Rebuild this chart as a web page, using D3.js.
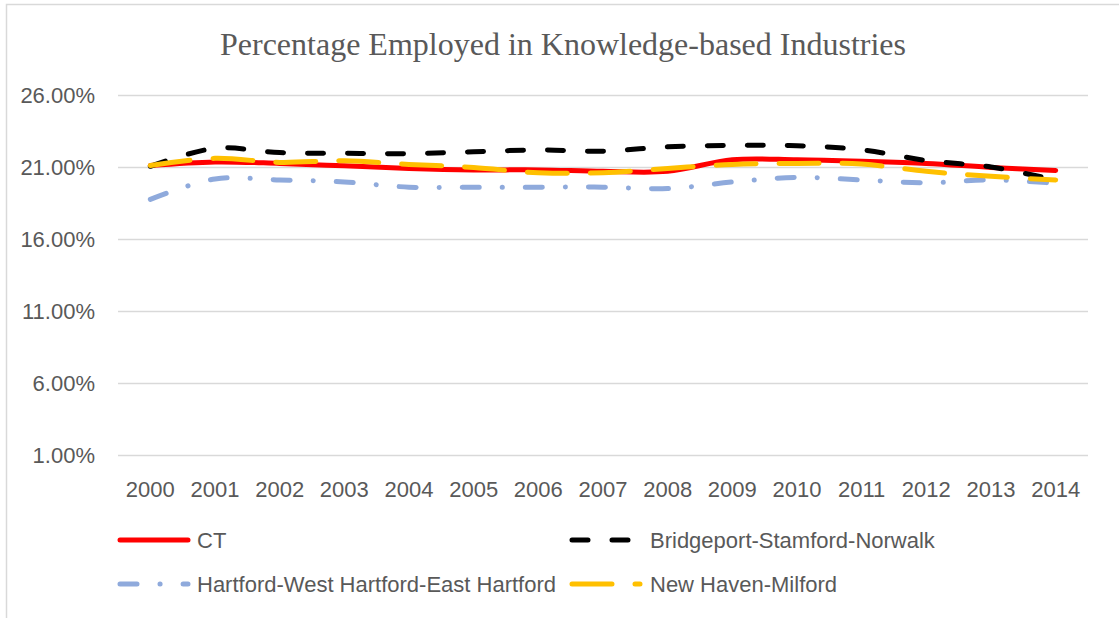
<!DOCTYPE html>
<html>
<head>
<meta charset="utf-8">
<script src="https://cdn.jsdelivr.net/npm/d3@7"></script>
<style>
  body { margin: 0; background: #fff; }
  svg text { fill: #595959; }
</style>
</head>
<body>
<div id="chart"></div>
<script>
"use strict";

const years = ['2000','2001','2002','2003','2004','2005','2006','2007','2008','2009','2010','2011','2012','2013','2014']
const yTicks = [1, 6, 11, 16, 21, 26]

const ct         = [21.10, 21.35, 21.25, 21.08, 20.90, 20.80, 20.80, 20.70, 20.70, 21.50, 21.50, 21.40, 21.25, 20.97, 20.76]
const bridgeport = [21.05, 22.30, 22.00, 21.95, 21.93, 22.06, 22.18, 22.10, 22.40, 22.50, 22.48, 22.20, 21.45, 21.00, 20.10]
const hartford   = [18.75, 20.17, 20.10, 19.96, 19.60, 19.60, 19.60, 19.60, 19.50, 19.96, 20.28, 20.10, 19.90, 20.10, 19.87]
const newHaven   = [21.10, 21.60, 21.32, 21.43, 21.18, 20.97, 20.60, 20.60, 20.90, 21.18, 21.25, 21.20, 20.70, 20.35, 20.10]

const series = [
  { name: 'CT', values: ct, color: '#ff0000', dash: null },
  { name: 'Bridgeport-Stamford-Norwalk', values: bridgeport, color: '#000000', dash: '16,24' },
  { name: 'Hartford-West Hartford-East Hartford', values: hartford, color: '#8faadc', dash: '17,23,0.1,23' },
  { name: 'New Haven-Milford', values: newHaven, color: '#ffc000', dash: '40,23' },
]

const W = 1119, H = 618
const plot = { left: 118, right: 1088, top: 95, bottom: 455 }
const FONT = '"Liberation Sans", Arial, sans-serif'

const svg = d3.select('#chart').append('svg')
  .attr('width', W)
  .attr('height', H)

// outer chart border (top + left visible)
svg.append('path')
  .attr('d', `M6.5,${H} V4.5 H${W}`)
  .attr('fill', 'none')
  .attr('stroke', '#d9d9d9')
  .attr('stroke-width', 1.5)

svg.append('text')
  .attr('x', 563)
  .attr('y', 55)
  .attr('text-anchor', 'middle')
  .style('font-family', '"Liberation Serif", "Times New Roman", serif')
  .style('font-size', '32px')
  .text('Percentage Employed in Knowledge-based Industries')

const x = d3.scaleBand().domain(years).range([plot.left, plot.right])
const y = d3.scaleLinear().domain([1, 26]).range([plot.bottom, plot.top])

// gridlines
svg.append('g')
  .selectAll('line')
  .data(yTicks)
  .join('line')
    .attr('x1', plot.left)
    .attr('x2', plot.right)
    .attr('y1', d => Math.round(y(d)) + 0.5)
    .attr('y2', d => Math.round(y(d)) + 0.5)
    .attr('stroke', '#d9d9d9')
    .attr('stroke-width', 1.3)

const yAxis = svg.append('g')
  .attr('transform', `translate(${plot.left - 23},0)`)
  .call(d3.axisLeft(y).tickValues(yTicks).tickSize(0).tickFormat(d => d.toFixed(2) + '%'))
yAxis.select('.domain').remove()
yAxis.selectAll('text')
  .attr('x', 0)
  .attr('dy', '0.35em')
  .style('font-family', FONT)
  .style('font-size', '22px')

const xAxis = svg.append('g')
  .attr('transform', `translate(0,${plot.bottom})`)
  .call(d3.axisBottom(x).tickSize(0))
xAxis.select('.domain').remove()
xAxis.selectAll('text')
  .attr('y', 42)
  .attr('dy', 0)
  .style('font-family', FONT)
  .style('font-size', '22px')

const line = d3.line()
  .x((d, i) => x(years[i]) + x.bandwidth() / 2)
  .y(d => y(d))
  .curve(d3.curveCatmullRom.alpha(0.5))

svg.append('g')
  .selectAll('path')
  .data(series)
  .join('path')
    .attr('d', d => line(d.values))
    .attr('fill', 'none')
    .attr('stroke', d => d.color)
    .attr('stroke-width', 5)
    .attr('stroke-linecap', 'round')
    .attr('stroke-linejoin', 'round')
    .attr('stroke-dasharray', d => d.dash)

// legend
const legendPos = [
  { x: 120, y: 540 },
  { x: 572, y: 540 },
  { x: 120, y: 584 },
  { x: 572, y: 584 },
]

const legend = svg.append('g')
  .selectAll('g')
  .data(series)
  .join('g')
    .attr('transform', (d, i) => `translate(${legendPos[i].x},${legendPos[i].y})`)

legend.append('line')
  .attr('x1', 0)
  .attr('x2', 68)
  .attr('stroke', d => d.color)
  .attr('stroke-width', 5)
  .attr('stroke-linecap', 'round')
  .attr('stroke-dasharray', d => d.dash)

legend.append('text')
  .attr('x', (d, i) => i % 2 ? 78 : 77)
  .attr('dy', '0.35em')
  .style('font-family', FONT)
  .style('font-size', '22px')
  .text(d => d.name)
</script>
</body>
</html>
